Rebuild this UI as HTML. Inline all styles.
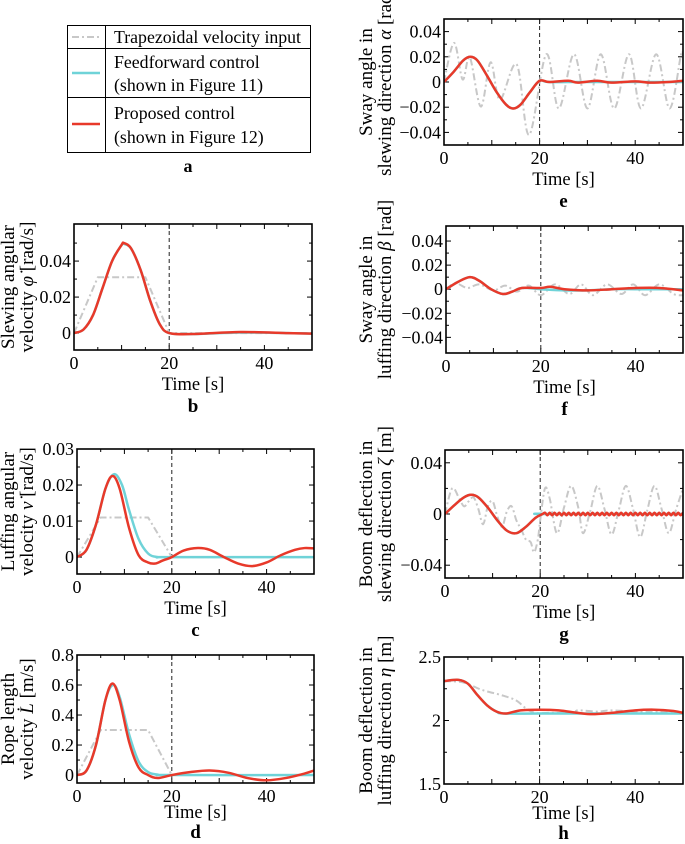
<!DOCTYPE html>
<html><head><meta charset="utf-8"><style>
html,body{margin:0;padding:0;background:#fff;}
svg{display:block;font-family:"Liberation Serif",serif;}
</style></head><body>
<svg id="fig" width="685" height="844" viewBox="0 0 685 844" xmlns="http://www.w3.org/2000/svg">
<g>
<rect x="67.5" y="25.5" width="243" height="127" fill="none" stroke="#000" stroke-width="1"/>
<line x1="67" y1="48.5" x2="311" y2="48.5" stroke="#000"/>
<line x1="67" y1="97.5" x2="311" y2="97.5" stroke="#000"/>
<line x1="105.5" y1="25" x2="105.5" y2="153" stroke="#000"/>
<line x1="72" y1="37" x2="100" y2="37" stroke="#c8c8c8" stroke-width="2" stroke-dasharray="7,3,2,3"/>
<line x1="72" y1="73" x2="100" y2="73" stroke="#6fd3d8" stroke-width="2.5"/>
<line x1="72" y1="124" x2="100" y2="124" stroke="#e8392a" stroke-width="2.5"/>
<text x="114" y="43" font-size="17.8">Trapezoidal velocity input</text>
<text x="114" y="68" font-size="17.8">Feedforward control</text>
<text x="114" y="91" font-size="17.8">(shown in Figure 11)</text>
<text x="114" y="119" font-size="17.8">Proposed control</text>
<text x="114" y="143" font-size="17.8">(shown in Figure 12)</text>
<text x="188" y="172" font-size="18" font-weight="bold" text-anchor="middle">a</text>
</g>
</svg>
<script>
// ---- data (time [s], values) ----
const bGrayT=[0,5,15,20,50]; const bGrayV=[0,0.031,0.031,0,0];
const bCyanT=[0,2,4,6,8,10,10.5,12,14,16,18,20,25,35,45,50]; const bCyanV=[0,0.002,0.01,0.025,0.04,0.049,0.0495,0.047,0.035,0.018,0.005,0,-0.0005,0.0003,0,-0.0003];
const bRedT=[0,2,4,6,8,10,10.5,12,14,16,18,20,25,35,45,50]; const bRedV=[0,0.002,0.01,0.025,0.04,0.049,0.05,0.047,0.035,0.018,0.005,0,-0.0005,0.0006,0,-0.0003];

const cGrayT=[0,5,15,20,50]; const cGrayV=[0,0.011,0.011,0,0];
const cCyanT=[0,2,4,6,7.8,9.5,11,13,15,17,20,50]; const cCyanV=[0,0.002,0.009,0.019,0.023,0.02,0.013,0.005,0.001,0,0,0];
const cRedT=[0,2,4,6,7.5,9,11,13,15,16.5,18,20,22.5,25.5,28,31,34,37,40,43,46,48,50]; const cRedV=[0,0.002,0.009,0.019,0.0225,0.019,0.008,0.0005,-0.0015,-0.0018,-0.001,0,0.0018,0.0025,0.002,0,-0.0018,-0.0025,-0.0015,0.0005,0.002,0.0025,0.0024];

const dGrayT=[0,5,15,20,50]; const dGrayV=[0,0.3,0.3,0,0];
const dCyanT=[0,2,4,6,7.6,9,11,13,15,17,20,50]; const dCyanV=[0,0.03,0.2,0.5,0.6,0.52,0.27,0.09,0.02,0.003,0,0];
const dRedT=[0,2,4,6,7.5,9,11,13,15,17,20,24,28,32,36,40,44,48,50]; const dRedV=[0,0.03,0.2,0.5,0.61,0.5,0.22,0.05,0,-0.02,0,0.02,0.03,0.015,-0.02,-0.035,-0.02,0.01,0.03];

const eGrayT=[0,2.1,3.9,5.4,7.7,9.75,11.7,15.2,17.8,21.4,24,27.2,30,32.8,35.6,38.7,41.2,44.4,47.2,49.6,50]; const eGrayV=[0,0.031,0.002,0.0195,-0.0195,0.0156,-0.014,0.014,-0.042,0.022,-0.021,0.022,-0.021,0.022,-0.021,0.022,-0.021,0.022,-0.021,0.022,0.02];
const eCyanT=[0,2,4,5.5,7,9,11,13,14.5,16,18,20,22,30,40,50]; const eCyanV=[0,0.008,0.017,0.02,0.017,0.005,-0.008,-0.018,-0.021,-0.018,-0.008,0.001,0,0,0,0];
const eRedT=[0,2,4,5.5,7,9,11,13,14.5,16,18,20,22,26,28,32,35,40,43,47,50]; const eRedV=[0,0.008,0.017,0.02,0.017,0.005,-0.008,-0.018,-0.021,-0.018,-0.008,0.001,0,0.001,-0.0005,0.001,-0.0005,0.0005,-0.0005,0,0.001];

const fGrayT=[0,2,4.5,7,10,12.5,15,17.5,20,23,26,28.5,31,34,37,39.5,42,45,48,50]; const fGrayV=[0,0.005,0.001,0.004,-0.001,0.003,-0.002,0.003,-0.005,0.004,-0.004,0.004,-0.005,0.004,-0.004,0.004,-0.005,0.004,-0.004,-0.005];
const fCyanT=[0,2.5,5,7,9.5,12,14,16,20,25,30,35,40,45,50]; const fCyanV=[0,0.006,0.01,0.007,0,-0.004,-0.002,0.001,0,-0.001,-0.001,0,0,0,0];
const fRedT=[0,2.5,5,7,9.5,12,14,16,20,22,25,30,35,40,45,50]; const fRedV=[0,0.006,0.01,0.007,0,-0.004,-0.002,0.001,0.001,0.002,0,-0.001,0,0.001,0.001,-0.001];

const gGrayT=[0,1.5,3,4,5,6,7,8,9,10,11,12,13,14,15,16,17,18,18.7,19.5,20,21,22,23.5,25,26.5,28,29,30.5,32,33.5,35,36.5,38,39.5,41,42.5,44,45.5,47,48.5,50]; const gGrayV=[0,0.02,0.012,0.006,0.01,0.013,0.004,-0.008,0.006,0.01,-0.002,-0.01,0.002,0.006,-0.005,-0.012,-0.02,-0.022,-0.03,-0.02,-0.005,0.02,0.012,-0.015,0.005,0.022,0.005,-0.015,0.002,0.022,0.004,-0.016,0.003,0.022,0.004,-0.018,0.003,0.022,0.004,-0.015,0.003,0.02];
const gCyanT=[0,2,4,5.5,7,9,11,13,15,17,19,20.5,21,50]; const gCyanV=[0,0.007,0.013,0.015,0.013,0.005,-0.005,-0.013,-0.015,-0.01,-0.003,0,0,0];
const gRedT=[0,2,4,5.5,7,9,11,13,15,17,19,20.5,21,21.5,22,22.5,23,23.5,24,24.5,25,25.5,26,26.5,27,27.5,28,28.5,29,29.5,30,30.5,31,31.5,32,32.5,33,33.5,34,34.5,35,35.5,36,36.5,37,37.5,38,38.5,39,39.5,40,40.5,41,41.5,42,42.5,43,43.5,44,44.5,45,45.5,46,46.5,47,47.5,48,48.5,49,49.5,50];
const gRedV=[0,0.007,0.013,0.015,0.013,0.005,-0.005,-0.013,-0.015,-0.01,-0.003,0,0.001,-0.001,0.001,-0.001,0.001,-0.001,0.001,-0.001,0.001,-0.001,0.001,-0.001,0.001,-0.001,0.001,-0.001,0.001,-0.001,0.001,-0.001,0.001,-0.001,0.001,-0.001,0.001,-0.001,0.001,-0.001,0.001,-0.001,0.001,-0.001,0.001,-0.001,0.001,-0.001,0.001,-0.001,0.001,-0.001,0.001,-0.001,0.001,-0.001,0.001,-0.001,0.001,-0.001,0.001,-0.001,0.001,-0.001,0.001,-0.001,0.001,-0.001,0.001,-0.001,0.001];

const hGrayT=[0,4,8,12,15,17,19,22,27,28,32,35,40,45,50]; const hGrayV=[2.31,2.3,2.24,2.2,2.16,2.1,2.06,2.06,2.06,2.08,2.07,2.08,2.07,2.07,2.06];
const hCyanT=[0,3,5,7,9,11,12.5,20,30,40,50]; const hCyanV=[2.31,2.32,2.29,2.2,2.12,2.07,2.055,2.055,2.055,2.055,2.055];
const hRedT=[0,3,5,7,9,11,13,16,20,24,28,31,35,40,44,48,50]; const hRedV=[2.31,2.32,2.29,2.2,2.12,2.07,2.055,2.08,2.085,2.08,2.06,2.05,2.06,2.08,2.085,2.075,2.06];

const xTickLabels=["0","20","40"];
const bYTicks=["0","0.02","0.04"], cYTicks=["0","0.01","0.02","0.03"], dYTicks=["0","0.2","0.4","0.6","0.8"];
const eYTicks=["-0.04","-0.02","0","0.02","0.04"], fYTicks=["-0.04","-0.02","0","0.02","0.04"], gYTicks=["-0.04","0","0.04"], hYTicks=["1.5","2","2.5"];

const NS="http://www.w3.org/2000/svg";
const svg=document.getElementById('fig');
function mk(tag,attrs,parent){const e=document.createElementNS(NS,tag);for(const k in attrs)e.setAttribute(k,attrs[k]);(parent||svg).appendChild(e);return e;}

function smoothPath(pts){
  let d="M"+pts[0][0].toFixed(2)+","+pts[0][1].toFixed(2);
  for(let i=0;i<pts.length-1;i++){
    const p0=pts[Math.max(0,i-1)],p1=pts[i],p2=pts[i+1],p3=pts[Math.min(pts.length-1,i+2)];
    const c1=[p1[0]+(p2[0]-p0[0])/6,p1[1]+(p2[1]-p0[1])/6];
    const c2=[p2[0]-(p3[0]-p1[0])/6,p2[1]-(p3[1]-p1[1])/6];
    d+="C"+c1[0].toFixed(2)+","+c1[1].toFixed(2)+" "+c2[0].toFixed(2)+","+c2[1].toFixed(2)+" "+p2[0].toFixed(2)+","+p2[1].toFixed(2);
  }
  return d;
}

function panel(cfg){
  const g=mk('g',{});
  
  
  const L=cfg.box[0],T=cfg.box[1],R=cfg.box[2],B=cfg.box[3];
  const xs=t=>L+(t-0)/(50-0)*(R-L);
  const ys=v=>B-(v-cfg.ymin)/(cfg.ymax-cfg.ymin)*(B-T);
  const clip=mk('clipPath',{id:'clip'+cfg.id},g);
  mk('rect',{x:L,y:T,width:R-L,height:B-T},clip);
  for(let t=0;t<=50;t+=5){
    const len=(t%10===0)?5:3;
    mk('line',{x1:xs(t),y1:B,x2:xs(t),y2:B-len,stroke:'#000','stroke-width':1},g);
    mk('line',{x1:xs(t),y1:T,x2:xs(t),y2:T+len,stroke:'#000','stroke-width':1},g);
  }
  cfg.minor.forEach(v=>{
    mk('line',{x1:L,y1:ys(v),x2:L+3,y2:ys(v),stroke:'#000'},g);
    mk('line',{x1:R,y1:ys(v),x2:R-3,y2:ys(v),stroke:'#000'},g);
  });
  cfg.yticks.forEach(s=>{
    const v=parseFloat(s),y=ys(v);
    mk('line',{x1:L,y1:y,x2:L+5,y2:y,stroke:'#000'},g);
    mk('line',{x1:R,y1:y,x2:R-5,y2:y,stroke:'#000'},g);
    const tx=mk('text',{x:L-3,y:y+6,'font-size':18,'text-anchor':'end'},g);
    
    
    tx.textContent=s.replace('-','\u2212');
  });
  xTickLabels.forEach(s=>{
    const tx=mk('text',{x:xs(parseFloat(s)),y:B+19,'font-size':18,'text-anchor':'middle'},g);
    
    
    tx.textContent=s;
  });
  const vl=mk('line',{x1:xs(20),y1:T,x2:xs(20),y2:B,stroke:'#222','stroke-width':1,'stroke-dasharray':'4,3'},g);
  
  
  const sg=mk('g',{'clip-path':'url(#clip'+cfg.id+')'},g);
  cfg.series.forEach(s=>{
    const pts=s.t.map((t,i)=>[xs(t),ys(s.v[i])]);
    const d=s.straight?("M"+pts.map(p=>p[0].toFixed(2)+","+p[1].toFixed(2)).join("L")):smoothPath(pts);
    const p=mk('path',{d:d,fill:'none',stroke:s.color,'stroke-width':s.w,'stroke-linejoin':'round'},sg);
    if(s.dash)p.setAttribute('stroke-dasharray',s.dash);
    
    
  });
  const fr=mk('rect',{x:L,y:T,width:R-L,height:B-T,fill:'none',stroke:'#000','stroke-width':1.6},g);
  
  
  const to=cfg.tight?35:40, lo=cfg.tight?55:62;
  const xt=mk('text',{x:(L+R)/2,y:B+to,'font-size':18.5,'text-anchor':'middle'},g);
  
  
  xt.textContent='Time [s]';
  const pl=mk('text',{x:(L+R)/2,y:B+lo,'font-size':19,'font-weight':'bold','text-anchor':'middle'},g);
  
  
  pl.textContent=cfg.id;
  const cy=(T+B)/2;
  cfg.ytitle.forEach((line,i)=>{
    const x=cfg.tx[i];
    const tt=mk('text',{x:x,y:cy,'font-size':19,'text-anchor':'middle',transform:'rotate(-90 '+x+' '+cy+')'},g);
    
    
    tt.innerHTML=line;
  });
}
const GR='#c8c8c8',CY='#6fd3d8',RD='#e8392a',DS='7,3,2,3';
function S(t,v,kind,straight){
  if(kind==='g')return {t:t,v:v,color:GR,w:2,dash:DS,name:'trapezoidal-input-line',straight:straight};
  if(kind==='c')return {t:t,v:v,color:CY,w:2.5,name:'feedforward-line'};
  return {t:t,v:v,color:RD,w:2.5,name:'proposed-line'};
}
const LX=[14,33], RX=[372,391];
panel({id:'b',box:[74,224,312,350],ymin:-0.0094,ymax:0.0606,yticks:bYTicks,minor:[0.01,0.03,0.05],tx:LX,
 ytitle:['Slewing angular','velocity <tspan font-style="italic">\u03C6\u0307</tspan> [rad/s]'],
 series:[S(bGrayT,bGrayV,'g',true),S(bCyanT,bCyanV,'c'),S(bRedT,bRedV,'r')]});
panel({id:'c',box:[77,449,314,574],ymin:-0.0047,ymax:0.03,yticks:cYTicks,minor:[0.005,0.015,0.025],tx:LX,
 ytitle:['Luffing angular','velocity <tspan font-style="italic">\u03BD\u0307</tspan> [rad/s]'],
 series:[S(cGrayT,cGrayV,'g',true),S(cCyanT,cCyanV,'c'),S(cRedT,cRedV,'r')]});
panel({id:'d',tight:true,box:[77,655,314,783],ymin:-0.053,ymax:0.8,yticks:dYTicks,minor:[0.1,0.3,0.5,0.7],tx:LX,
 ytitle:['Rope length','velocity <tspan font-style="italic">L\u0307</tspan> [m/s]'],
 series:[S(dGrayT,dGrayV,'g',true),S(dCyanT,dCyanV,'c'),S(dRedT,dRedV,'r')]});
panel({id:'e',box:[444,19,683,145],ymin:-0.05,ymax:0.05,yticks:eYTicks,minor:[-0.03,-0.01,0.01,0.03],tx:RX,
 ytitle:['Sway angle in','slewing direction <tspan font-style="italic">\u03B1</tspan> [rad]'],
 series:[S(eGrayT,eGrayV,'g'),S(eCyanT,eCyanV,'c'),S(eRedT,eRedV,'r')]});
panel({id:'f',box:[446,226,683,353],ymin:-0.053,ymax:0.0525,yticks:fYTicks,minor:[-0.03,-0.01,0.01,0.03],tx:RX,
 ytitle:['Sway angle in','luffing direction <tspan font-style="italic">\u03B2</tspan> [rad]'],
 series:[S(fGrayT,fGrayV,'g'),S(fCyanT,fCyanV,'c'),S(fRedT,fRedV,'r')]});
panel({id:'g',box:[445,450,683,578],ymin:-0.05,ymax:0.05,yticks:gYTicks,minor:[-0.02,0.02],tx:RX,
 ytitle:['Boom deflection in','slewing direction <tspan font-style="italic">\u03B6</tspan> [m]'],
 series:[S(gGrayT,gGrayV,'g'),S(gCyanT,gCyanV,'c'),S(gRedT,gRedV,'r')]});
panel({id:'h',tight:true,box:[444,657,683,784],ymin:1.5,ymax:2.5,yticks:hYTicks,minor:[1.75,2.25],tx:RX,
 ytitle:['Boom deflection in','luffing direction <tspan font-style="italic">\u03B7</tspan> [m]'],
 series:[S(hGrayT,hGrayV,'g'),S(hCyanT,hCyanV,'c'),S(hRedT,hRedV,'r')]});
</script>
</body></html>
